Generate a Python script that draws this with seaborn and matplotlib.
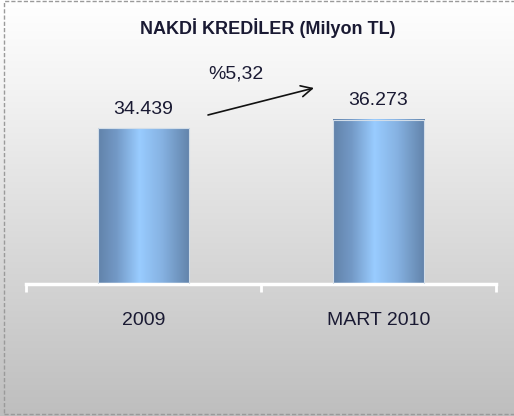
import numpy as np
import seaborn as sns
import matplotlib
matplotlib.use('Agg')
import matplotlib.pyplot as plt
from matplotlib.colors import LinearSegmentedColormap
from matplotlib.patches import Rectangle

# data
periods = ['2009', 'MART 2010']
credits = [34439, 36273]
value_labels = ['34.439', '36.273']
growth_label = '%5,32'
title = 'NAKDİ KREDİLER (Milyon TL)'

sns.set_theme(style='white')
plt.rcParams['font.family'] = ['Liberation Sans', 'DejaVu Sans']
text_color = '#1a1a33'

fig = plt.figure(figsize=(5.14, 4.16), dpi=100)

# background: vertical grey gradient + dashed frame
bg = fig.add_axes([0, 0, 1, 1], zorder=0)
bg_cmap = LinearSegmentedColormap.from_list('bg', [(0, '#bebebe'), (0.8, '#f4f4f4'), (1, '#ffffff')])
bg.imshow(np.linspace(1, 0, 256).reshape(-1, 1), cmap=bg_cmap, aspect='auto',
          extent=[0, 1, 0, 1], vmin=0, vmax=1)
bg.add_patch(Rectangle((4 / 514, 2.5 / 416), 1.2, 412.5 / 416, fill=False,
                       ec='#9a9a9a', lw=1, ls=(0, (3, 1.5)), transform=bg.transAxes,
                       clip_on=False))
bg.set_xlim(0, 1)
bg.set_ylim(0, 1)
bg.axis('off')

# main axes
ax = fig.add_axes([26 / 514, 131.7 / 416, 470 / 514, 244.6 / 416], zorder=1)
ax.patch.set_alpha(0)

sns.barplot(x=periods, y=credits, ax=ax, width=0.39, color='#99ccff',
            edgecolor='none', saturation=1)

bar_cmap = LinearSegmentedColormap.from_list(
    'bar', [(0, '#6283aa'), (0.2, '#7399c6'), (0.45, '#99ccff'), (0.7, '#86b2e2'), (1, '#6283aa')])
grad = np.linspace(0, 1, 128).reshape(1, -1)
for bar in ax.patches:
    x0, w, h = bar.get_x(), bar.get_width(), bar.get_height()
    ax.imshow(grad, cmap=bar_cmap, aspect='auto', extent=[x0, x0 + w, 0, h],
              interpolation='bilinear', zorder=2)
    bar.set_facecolor('none')
    bar.set_edgecolor('#d2dde8')
    bar.set_linewidth(0.8)
    bar.set_zorder(3)

ax.set_xlim(-0.5, 1.5)
ax.set_ylim(0, 54000)

# value labels above bars
for bar, lab in zip(ax.patches, value_labels):
    ax.annotate(lab, (bar.get_x() + bar.get_width() / 2, bar.get_height()),
                xytext=(0, 10.5), textcoords='offset points', ha='center',
                va='baseline', fontsize=14, color=text_color)

# growth arrow between bars
ax.annotate('', xy=(0.7255, 43340), xytext=(0.2745, 37380),
            arrowprops=dict(arrowstyle='->', lw=1.2, color='#111111',
                            mutation_scale=20, shrinkA=0, shrinkB=0))
ax.text(0.394, 46320, growth_label, ha='center', va='center', fontsize=14,
        color=text_color)

# axis styling
for side in ['top', 'right', 'left']:
    ax.spines[side].set_visible(False)
ax.spines['bottom'].set_color('white')
ax.spines['bottom'].set_linewidth(2.5)
ax.set_yticks([])
ax.set_xticks([-0.5, 0.5, 1.5], minor=True)
ax.tick_params(axis='x', which='minor', length=6, width=2, color='white',
               direction='out', bottom=True)
ax.tick_params(axis='x', which='major', length=0, pad=20, labelsize=14,
               labelcolor=text_color)
ax.set_xlabel('')
ax.set_ylabel('')

fig.text(268 / 514, 1 - 28.5 / 416, title, ha='center', va='center',
         fontsize=13, fontweight='bold', color=text_color)

fig.savefig('out.png', dpi=100)
